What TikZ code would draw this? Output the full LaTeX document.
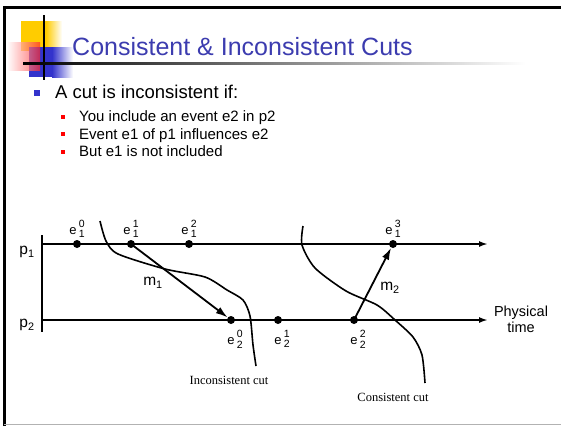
\documentclass[tikz,border=0pt]{standalone}
\usepackage{fontspec}
\setmainfont{Liberation Sans}
\newfontfamily\cutfont{Liberation Serif}
\usetikzlibrary{arrows.meta, positioning}

\definecolor{titleblue}{RGB}{60,60,175}
\definecolor{logoblue}{RGB}{51,51,204}
\definecolor{logoyellow}{RGB}{255,204,0}
\definecolor{logored}{RGB}{255,40,40}

\newcommand{\ev}[2]{e\,\raisebox{-3.5pt}{\fontsize{10.5}{9.5}\selectfont\shortstack[c]{#1\\#2}}}

\begin{document}
\begin{tikzpicture}[x=1pt, y=-1pt,
  dot/.style={circle, fill=black, inner sep=0pt, minimum size=8pt},
  timeline/.style={line width=1.8pt, -{Latex[length=9pt,width=6pt]}},
  msg/.style={line width=1.8pt, -{Latex[length=12pt,width=7.5pt]}},
  cutline/.style={line width=1.6pt},
  evlabel/.style={font=\fontsize{13}{13}\selectfont, inner sep=0pt},
  cutlabel/.style={font=\cutfont\fontsize{12.5}{13}\selectfont, inner sep=0pt},
  bulletbox/.style={inner sep=0pt, minimum size=#1}]
  \useasboundingbox (0,0) rectangle (561,426);

  % Slide frame
  \draw[line width=3pt] (4,426) -- (4,7) -- (561,7);
  \draw[gray!60, line width=1.2pt] (4,424.4) -- (561,424.4);

  % Logo
  \fill[logoyellow] (21,21) rectangle (46,51);
  \shade[left color=logoyellow, right color=white] (46,21) rectangle (62,51);
  \fill[logoblue] (29,47) rectangle (52,77);
  \shade[left color=logoblue, right color=white] (52,47) rectangle (73,77);
  \shade[left color=white, right color=logored, opacity=0.7] (7,42) rectangle (40,70);
  \draw[line width=2pt] (44,15) -- (44,80);
  \shade[left color=black, middle color=black!55, right color=white] (23,62) rectangle (525,64);

  % Title and bullets
  \node[anchor=base west, text=titleblue, font=\fontsize{25}{28}\selectfont, inner sep=0pt]
    (title) at (72,55) {Consistent \& Inconsistent Cuts};
  \node[bulletbox=5.5pt, fill=logoblue] (b0) at (37,93) {};
  \node[anchor=base west, font=\fontsize{18.5}{20}\selectfont, inner sep=0pt]
    (t0) at (55,98) {A cut is inconsistent if:};
  \foreach \txt [count=\i] in {You include an event e2 in p2, Event e1 of p1 influences e2, But e1 is not included} {
    \node[bulletbox=4pt, fill=red] (b\i) at (63,99+17.5*\i) {};
    \node[anchor=base west, font=\fontsize{15}{17}\selectfont, inner sep=0pt]
      (t\i) at (79,104+17.5*\i) {\txt};
  }

  % Process lines
  \coordinate (p1start) at (42,244);
  \coordinate (p1end) at (488,244);
  \coordinate (p2start) at (42,320);
  \coordinate (p2end) at (488,320);
  \coordinate (bartop) at (42,235);
  \coordinate (barbot) at (42,332);
  \draw[line width=1.8pt] (bartop) -- (barbot);
  \draw[timeline] (p1start) -- (p1end);
  \draw[timeline] (p2start) -- (p2end);
  \node[font=\fontsize{15.5}{15}\selectfont] (p1) at (27,252) {p\textsubscript{1}};
  \node[font=\fontsize{15.5}{15}\selectfont] (p2) at (27,325) {p\textsubscript{2}};
  \node[align=center, font=\fontsize{14.5}{16}\selectfont] (phys) at (521,319) {Physical\\time};

  % Events
  \node[dot] (e10) at (77,244) {};
  \node[dot] (e11) at (131,244) {};
  \node[dot] (e12) at (189,244) {};
  \node[dot] (e13) at (393,244) {};
  \node[dot] (e20) at (231,320) {};
  \node[dot] (e21) at (278,320) {};
  \node[dot] (e22) at (354,320) {};
  \foreach \n/\s/\b in {e10/0/1, e11/1/1, e12/2/1, e13/3/1}
    \node[evlabel, above=2pt of \n] (l\n) {\ev{\s}{\b}};
  \foreach \n/\s/\b in {e20/0/2, e21/1/2, e22/2/2}
    \node[evlabel, below=6pt of \n, xshift=4pt] (l\n) {\ev{\s}{\b}};

  % Messages
  \draw[msg] (e11.center) -- (e20);
  \draw[msg] (e22.center) -- (e13);
  \node[font=\fontsize{15.5}{15}\selectfont] (m1) at (153,283) {m\textsubscript{1}};
  \node[font=\fontsize{15.5}{15}\selectfont] (m2) at (390,288) {m\textsubscript{2}};

  % Cuts
  \draw[cutline] plot[smooth, tension=0.45] coordinates {(100,221) (106,241) (118,254) (165,269) (205,277) (227,290) (243,300) (250,316) (253,345) (256,366)};
  \draw[cutline] plot[smooth, tension=0.45] coordinates {(303,226) (302,245) (315,268) (346,291) (377,305) (395,320) (413,337) (422,355) (425,383)};
  \node[cutlabel] (inc) at (229,380) {Inconsistent cut};
  \node[cutlabel] (con) at (393,397) {Consistent cut};
\end{tikzpicture}
\end{document}
